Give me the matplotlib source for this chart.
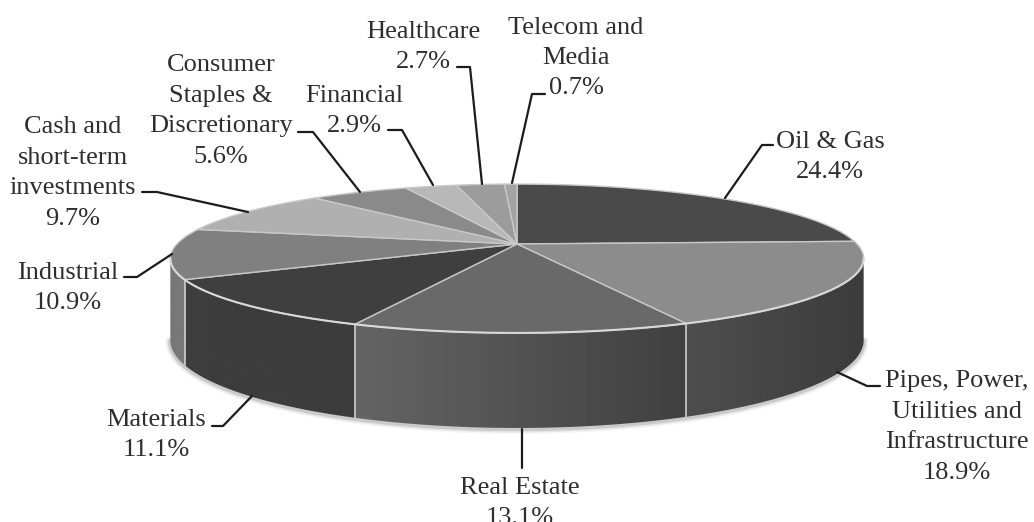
import numpy as np
import matplotlib
matplotlib.use("Agg")
import matplotlib.pyplot as plt
from matplotlib.patches import Polygon

plt.rcParams['font.family'] = ['Liberation Serif', 'DejaVu Serif']

# chart data, clockwise from 12 o'clock
sectors = ["Oil & Gas", "Pipes, Power,\nUtilities and\nInfrastructure", "Real Estate", "Materials",
           "Industrial", "Cash and\nshort-term\ninvestments", "Consumer\nStaples &\nDiscretionary",
           "Financial", "Healthcare", "Telecom and\nMedia"]
shares = [24.4, 18.9, 13.1, 11.1, 10.9, 9.7, 5.6, 2.9, 2.7, 0.7]

top_greys = ["#4a4a4a", "#8c8c8c", "#696969", "#3f3f3f", "#808080",
             "#b0b0b0", "#8a8a8a", "#b8b8b8", "#9c9c9c", "#a4a4a4"]
# wall shading, grey value at the right and left end of each visible wall
wall_greys = {1: (0x3c, 0x4e), 2: (0x40, 0x64), 3: (0x3c, 0x3e), 4: (0x7a, 0x76)}

# label centre in pixels and leader line points
label_pos = [(830, 157), (957, 427), (520, 503), (156, 435), (68, 288),
             (73, 173), (221, 111), (354, 111), (423, 47), (576, 58)]
leaders = [[(773, 145), (762, 145), (725, 198)],
           [(880, 386), (867, 386), (837, 372)],
           [(522, 429), (522, 468)],
           [(212, 426), (223, 426), (252, 396)],
           [(124, 277), (137, 277), (172, 254)],
           [(142, 192), (157, 192), (248, 212)],
           [(298, 132), (313, 132), (360, 192)],
           [(388, 130), (402, 130), (433, 185)],
           [(457, 67), (470, 67), (482, 184)],
           [(545, 94), (532, 94), (512, 183)]]

# perspective of the disc
cx, cy, rx, ry, k = 517, 244, 340, 71.6, 0.195
cy_low, ry_low = 323, 84.5

def project(t, low=False):
    # t is clockwise angle from the top, radians
    X, Y = np.sin(t), np.cos(t)
    d = 1 + k * Y
    if low:
        return cx + rx * X / d, cy_low - ry_low * Y / d
    return cx + rx * X / d, cy - ry * Y / d

fig = plt.figure(figsize=(10.34, 5.22), dpi=100)
ax = fig.add_axes([0, 0, 1, 1])

edges = np.radians(np.concatenate([[0], np.cumsum(shares)]) * 3.6)
sil = np.arccos(-k)  # where the wall meets the outline

# soft shadow under the bottom rim
t_front = np.linspace(sil, 2 * np.pi - sil, 200)
xl, yl = project(t_front, low=True)
for w, a in [(7, 0.06), (5, 0.10), (3, 0.18)]:
    ax.plot(xl, yl + 1, color="#555555", lw=w, alpha=a, solid_capstyle='round', zorder=1)

# walls, a gradient image clipped to each wall outline
for i, (c_right, c_left) in wall_greys.items():
    a = max(edges[i], sil)
    b = min(edges[i + 1], 2 * np.pi - sil)
    ts = np.linspace(a, b, 60)
    x0, y0 = project(ts)
    x1, y1 = project(ts, low=True)
    outline = Polygon(np.c_[np.r_[x0, x1[::-1]], np.r_[y0, y1[::-1]]], transform=ax.transData)
    grad = np.linspace(c_left, c_right, 64)[None, :] / 255
    im = ax.imshow(grad, cmap='gray', vmin=0, vmax=1, aspect='auto', interpolation='bilinear',
                   extent=(x0.min(), x0.max(), y1.max(), y0.min()), zorder=2)
    im.set_clip_path(outline)

# wall seams
for e in edges[1:]:
    if sil < e < 2 * np.pi - sil:
        x0, y0 = project(e)
        x1, y1 = project(e, low=True)
        ax.plot([x0, x1], [y0, y1], color="#c4c4c4", lw=1.3, zorder=3)

# top of the pie
for i in range(len(shares)):
    ts = np.linspace(edges[i], edges[i + 1], 80)
    x, y = project(ts)
    ax.fill(np.r_[cx, x], np.r_[cy, y], facecolor=top_greys[i], edgecolor="#c8c8c8", lw=1.0, zorder=4)

# bright front rim
x, y = project(t_front)
ax.plot(x, y, color="#d8d8d8", lw=1.5, zorder=5)

for pts in leaders:
    xs, ys = zip(*pts)
    ax.plot(xs, ys, color="#1c1c1c", lw=1.6, solid_capstyle='round', solid_joinstyle='round', zorder=6)

for name, val, (lx, ly) in zip(sectors, shares, label_pos):
    ax.text(lx, ly, f"{name}\n{val}%", ha='center', va='center', fontsize=19,
            linespacing=1.5, color="#2e2e2e", zorder=7)

ax.set_xlim(0, 1034)
ax.set_ylim(522, 0)
ax.axis('off')

fig.savefig("out.png", dpi=100, facecolor="white")
